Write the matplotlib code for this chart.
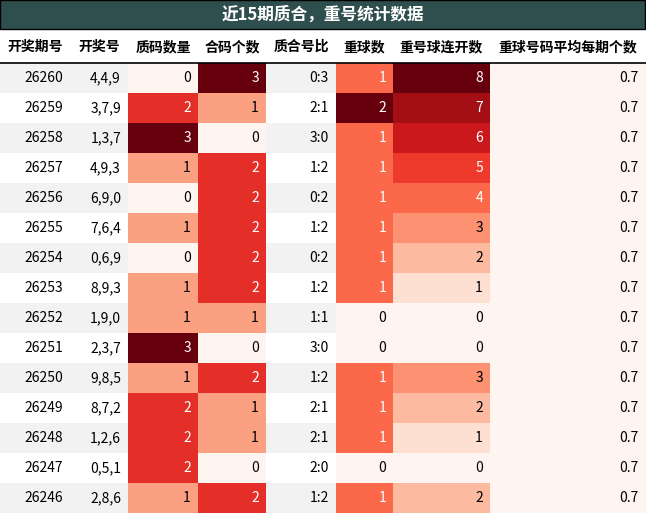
import matplotlib
matplotlib.use('Agg')
import matplotlib.pyplot as plt
from matplotlib.patches import Rectangle
from matplotlib import colors, cm

plt.rcParams['font.family'] = ['Noto Sans CJK SC', 'DejaVu Sans']

title = '近15期质合，重号统计数据'
columns = ['开奖期号', '开奖号', '质码数量', '合码个数', '质合号比', '重球数', '重号球连开数', '重球号码平均每期个数']
periods = [26260, 26259, 26258, 26257, 26256, 26255, 26254, 26253, 26252, 26251, 26250, 26249, 26248, 26247, 26246]
draws = ['4,4,9', '3,7,9', '1,3,7', '4,9,3', '6,9,0', '7,6,4', '0,6,9', '8,9,3', '1,9,0',
         '2,3,7', '9,8,5', '8,7,2', '1,2,6', '0,5,1', '2,8,6']
prime_cnt = [0, 2, 3, 1, 0, 1, 0, 1, 1, 3, 1, 2, 2, 2, 1]
comp_cnt = [3, 1, 0, 2, 2, 2, 2, 2, 1, 0, 2, 1, 1, 0, 2]
repeat_cnt = [1, 2, 1, 1, 1, 1, 1, 1, 0, 0, 1, 1, 1, 0, 1]
repeat_streak = [8, 7, 6, 5, 4, 3, 2, 1, 0, 0, 3, 2, 1, 0, 2]
avg_repeat = [0.7] * 15

# column layout in pixels
col_edges = [0, 70, 128, 198, 266, 336, 393, 490, 646]
title_h, header_top, header_bot, row_h = 29, 29, 63, 30

W, H = 646, 514
fig = plt.figure(figsize=(W / 100, H / 100), dpi=100)
ax = fig.add_axes([0, 0, 1, 1])
ax.set_xlim(0, W)
ax.set_ylim(H, 0)
ax.axis('off')

ax.add_patch(Rectangle((0, 0), W - 1, title_h, facecolor='#2f4f4f', edgecolor='black', lw=1))
ax.text(W / 2, title_h / 2, title, color='white', fontsize=12, fontweight='bold', ha='center', va='center')

for i, c in enumerate(columns):
    ax.text((col_edges[i] + col_edges[i + 1]) / 2, (header_top + header_bot) / 2 + 1, c,
            fontsize=10, fontweight='bold', ha='center', va='center')
ax.plot([0, W], [header_bot, header_bot], color='black', lw=1.2)

cmap = matplotlib.colormaps['Reds']
ratio = ['%d:%d' % (p, c) for p, c in zip(prime_cnt, comp_cnt)]
col_data = [periods, draws, prime_cnt, comp_cnt, ratio, repeat_cnt, repeat_streak, avg_repeat]
gradient = {2, 3, 5, 6, 7}


def fmt(v):
    return '%.1f' % v if isinstance(v, float) else str(v)


for j, vals in enumerate(col_data):
    if j in gradient:
        lo, hi = min(vals), max(vals)
    for r, v in enumerate(vals):
        y0 = header_bot + r * row_h
        if j in gradient:
            t = 0 if hi == lo else (v - lo) / (hi - lo)
            fc = cmap(t)
            lum = colors.to_rgb(fc)
            lum = 0.2126 * lum[0] ** 2.2 + 0.7152 * lum[1] ** 2.2 + 0.0722 * lum[2] ** 2.2
            tc = 'white' if lum < 0.408 else 'black'
        else:
            fc = '#f2f2f2' if r % 2 == 0 else 'white'
            tc = 'black'
        ax.add_patch(Rectangle((col_edges[j], y0), col_edges[j + 1] - col_edges[j], row_h, facecolor=fc, lw=0))
        ax.text(col_edges[j + 1] - 7, y0 + row_h / 2, fmt(v), color=tc, fontsize=10, ha='right', va='center')

fig.savefig('out.png', dpi=100)
